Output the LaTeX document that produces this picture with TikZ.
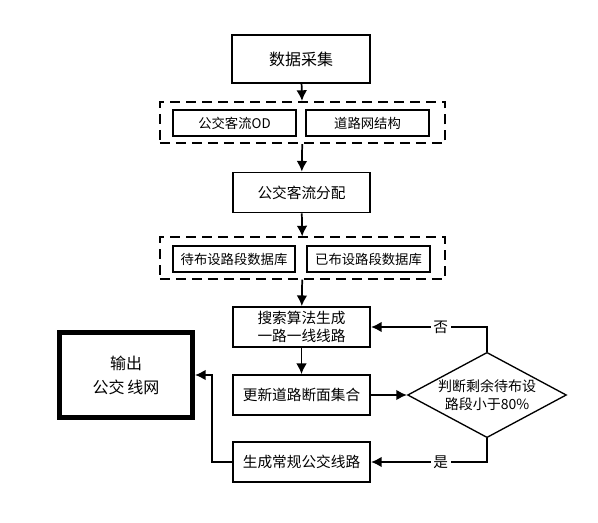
\documentclass[tikz,border=0pt]{standalone}
\usepackage{fontspec}
\setmainfont{Noto Sans CJK SC}
\usetikzlibrary{shapes.geometric,arrows.meta}
\tikzset{
  stepbox/.style={draw, line width=1.3pt, minimum width=103pt, minimum height=30pt,
    inner sep=1pt, align=center, font=\fontsize{11}{14}\selectfont},
  databox/.style={draw, line width=1.3pt, minimum width=92pt, minimum height=20pt,
    inner sep=1pt, font=\fontsize{10}{12}\selectfont},
  groupbox/.style={draw, line width=1.3pt, dash pattern=on 7.5pt off 4.5pt,
    minimum width=214pt, minimum height=31pt},
  judgebox/.style={draw, diamond, aspect=2, line width=1pt, minimum width=116pt,
    minimum height=64pt, inner sep=0pt, align=center, font=\fontsize{10.5}{13}\selectfont},
  arr/.style={-{Latex[length=8pt,width=8pt]}, line width=1.3pt},
  tag/.style={fill=white, inner sep=2pt, font=\fontsize{11}{13}\selectfont}
}
\begin{document}
\begin{tikzpicture}[x=0.75pt,y=-0.75pt]
  \useasboundingbox (0,0) rectangle (598,523);
  \node[stepbox, minimum height=36pt, font=\fontsize{12}{14}\selectfont] (collect) at (301,59) {数据采集};
  \node[groupbox] (g1) at (302.5,122.5) {};
  \node[databox] (odflow) at (234.5,123) {公交客流OD};
  \node[databox] (roadnet) at (367.5,123) {道路网结构};
  \node[stepbox] (assign) at (301.5,192.5) {公交客流分配};
  \node[groupbox] (g2) at (302.5,258) {};
  \node[databox] (todo) at (234,259) {待布设路段数据库};
  \node[databox] (done) at (368.5,259) {已布设路段数据库};
  \node[stepbox] (search) at (301.5,327) {搜索算法生成\\一路一线线路};
  \node[stepbox] (update) at (301.5,395) {更新道路断面集合};
  \node[stepbox] (generate) at (301.5,462) {生成常规公交线路};
  \node[draw, line width=3.5pt, minimum width=100pt, minimum height=64pt, align=center,
    font=\fontsize{12}{18}\selectfont] (output) at (126,375) {输出\\公交\,线网};
  \node[judgebox] (judge) at (487,395) {判断剩余待布设\\路段小于80\%};
  \draw[arr] (collect) -- (g1);
  \draw[arr] (g1) -- (assign);
  \draw[arr] (assign) -- (g2);
  \draw[arr] (g2) -- (search);
  \draw[arr] (search) -- (update);
  \draw[arr] (update) -- (judge);
  \draw[arr] (judge.north) |- node[tag, pos=0.7] {否} (search.east);
  \draw[arr] (judge.south) |- node[tag, pos=0.7] {是} (generate.east);
  \draw[arr] (generate.west) -- ++(-20,0) |- (output.east);
\end{tikzpicture}
\end{document}
